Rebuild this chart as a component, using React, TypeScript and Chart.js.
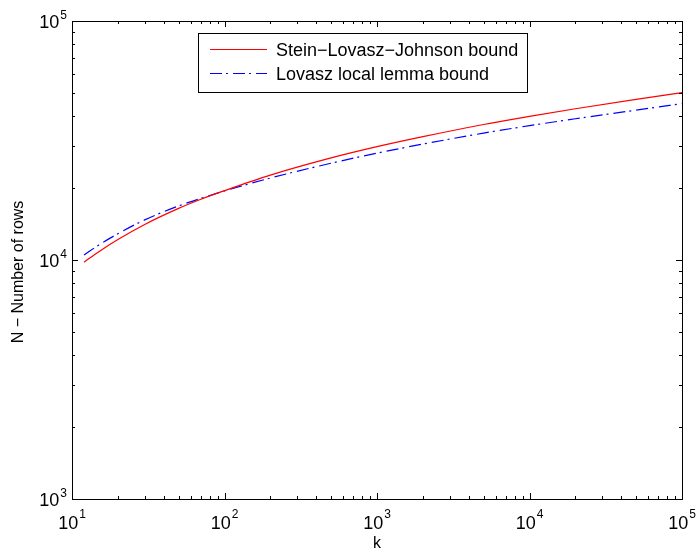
import React, { useEffect, useRef } from "react";
import { Chart, registerables } from "chart.js";

Chart.register(...registerables);

// Data
const kValues = [12, 15, 20, 30, 50, 70, 100, 200, 500, 1000, 2000, 5000, 10000, 20000, 50000, 100000];
const steinBound = [9795, 10840, 12190, 14090, 16440, 17950, 19500, 22650, 26730, 29790, 32810, 36900, 39900, 42950, 46990, 50120];
const lllBound = [10500, 11560, 12880, 14720, 16830, 18110, 19450, 22030, 25410, 27990, 30550, 33960, 36480, 38990, 42360, 45080];

const seriesLabels = ["Stein\u2212Lovasz\u2212Johnson bound", "Lovasz local lemma bound"];
const xExponents = [1, 2, 3, 4, 5];
const yExponents = [3, 4, 5];
const xTitle = "k";
const yTitle = "N \u2212 Number of rows";

const FONT = "'Liberation Sans', Arial, Helvetica, sans-serif";

const matlabAxes = {
  id: "matlabAxes",
  afterDraw(chart: any) {
    const { ctx, chartArea } = chart;
    const { left, right, top, bottom } = chartArea;
    const xs = chart.scales.x;
    const ys = chart.scales.y;
    ctx.save();
    ctx.strokeStyle = "#000";
    ctx.fillStyle = "#000";
    ctx.lineWidth = 1;
    ctx.setLineDash([]);
    ctx.strokeRect(Math.round(left) + 0.5, Math.round(top) + 0.5, Math.round(right - left), Math.round(bottom - top));

    const tick = (x1: number, y1: number, x2: number, y2: number) => {
      ctx.beginPath();
      ctx.moveTo(x1, y1);
      ctx.lineTo(x2, y2);
      ctx.stroke();
    };
    const xMin = xExponents[0];
    const xMax = xExponents[xExponents.length - 1];
    for (let e = xMin; e <= xMax; e++) {
      const base = Math.pow(10, e);
      const px = Math.round(xs.getPixelForValue(base)) + 0.5;
      tick(px, bottom, px, bottom - 6);
      tick(px, top, px, top + 6);
      if (e < xMax) {
        for (let m = 2; m <= 9; m++) {
          const p = Math.round(xs.getPixelForValue(m * base)) + 0.5;
          tick(p, bottom, p, bottom - 3);
          tick(p, top, p, top + 3);
        }
      }
    }
    const yMin = yExponents[0];
    const yMax = yExponents[yExponents.length - 1];
    for (let e = yMin; e <= yMax; e++) {
      const base = Math.pow(10, e);
      const py = Math.round(ys.getPixelForValue(base)) + 0.5;
      tick(left, py, left + 6, py);
      tick(right, py, right - 6, py);
      if (e < yMax) {
        for (let m = 2; m <= 9; m++) {
          const p = Math.round(ys.getPixelForValue(m * base)) + 0.5;
          tick(left, p, left + 3, p);
          tick(right, p, right - 3, p);
        }
      }
    }

    const bigFont = `18px ${FONT}`;
    const supFont = `12px ${FONT}`;
    ctx.textBaseline = "alphabetic";
    ctx.textAlign = "left";
    for (const e of xExponents) {
      const px = xs.getPixelForValue(Math.pow(10, e));
      ctx.font = bigFont;
      const w10 = ctx.measureText("10").width;
      ctx.font = supFont;
      const ws = ctx.measureText(String(e)).width;
      const start = px - (w10 + 1 + ws) / 2;
      ctx.font = bigFont;
      ctx.fillText("10", start, 529);
      ctx.font = supFont;
      ctx.fillText(String(e), start + w10 + 1, 518);
    }
    for (const e of yExponents) {
      const py = ys.getPixelForValue(Math.pow(10, e));
      ctx.font = bigFont;
      const w10 = ctx.measureText("10").width;
      ctx.font = supFont;
      const ws = ctx.measureText(String(e)).width;
      const end = left - 5;
      const start = end - (w10 + 1 + ws);
      ctx.font = bigFont;
      ctx.fillText("10", start, py + 7);
      ctx.font = supFont;
      ctx.fillText(String(e), start + w10 + 1, py - 2);
    }

    ctx.font = `16px ${FONT}`;
    ctx.textAlign = "center";
    ctx.fillText(xTitle, (left + right) / 2, 548);
    ctx.save();
    ctx.translate(23, (top + bottom) / 2 + 12);
    ctx.rotate(-Math.PI / 2);
    ctx.fillText(yTitle, 0, 0);
    ctx.restore();

    const lx = 198, ly = 33, lw = 329, lh = 59;
    ctx.fillStyle = "#fff";
    ctx.fillRect(lx, ly, lw, lh);
    ctx.strokeStyle = "#000";
    ctx.lineWidth = 1;
    ctx.strokeRect(lx + 0.5, ly + 0.5, lw, lh);
    const rows = [49, 73];
    chart.data.datasets.forEach((ds: any, i: number) => {
      const yRow = rows[i] + 0.5;
      ctx.strokeStyle = ds.borderColor;
      ctx.lineWidth = ds.borderWidth;
      ctx.setLineDash(ds.borderDash || []);
      ctx.beginPath();
      ctx.moveTo(210, yRow);
      ctx.lineTo(267, yRow);
      ctx.stroke();
      ctx.setLineDash([]);
      ctx.fillStyle = "#000";
      ctx.font = `18px ${FONT}`;
      ctx.textAlign = "left";
      ctx.fillText(ds.label, 276, rows[i] + 7);
    });
    ctx.restore();
  },
};

export default function App() {
  const canvasRef = useRef<HTMLCanvasElement | null>(null);

  useEffect(() => {
    const canvas = canvasRef.current;
    if (!canvas) return;
    const chart = new Chart(canvas, {
      type: "line",
      data: {
        datasets: [
          {
            label: seriesLabels[0],
            data: kValues.map((k, i) => ({ x: k, y: steinBound[i] })),
            borderColor: "#ff0000",
            borderWidth: 1.2,
            pointRadius: 0,
            cubicInterpolationMode: "monotone",
            fill: false,
          },
          {
            label: seriesLabels[1],
            data: kValues.map((k, i) => ({ x: k, y: lllBound[i] })),
            borderColor: "#0000ff",
            borderWidth: 1.2,
            borderDash: [12, 4, 2, 5],
            pointRadius: 0,
            cubicInterpolationMode: "monotone",
            fill: false,
          },
        ],
      },
      options: {
        animation: false,
        responsive: false,
        devicePixelRatio: 1,
        layout: { padding: { top: 21, right: 14, left: 0, bottom: 0 } },
        plugins: { legend: { display: false }, tooltip: { enabled: false } },
        scales: {
          x: {
            type: "logarithmic",
            min: 10,
            max: 100000,
            grid: { display: false },
            border: { display: false },
            ticks: { display: false },
            afterFit: (s: any) => {
              s.height = 53;
            },
          },
          y: {
            type: "logarithmic",
            min: 1000,
            max: 100000,
            grid: { display: false },
            border: { display: false },
            ticks: { display: false },
            afterFit: (s: any) => {
              s.width = 72;
            },
          },
        },
      },
      plugins: [matlabAxes],
    });
    return () => chart.destroy();
  }, []);

  return (
    <div style={{ position: "absolute", left: 0, top: 0, width: 696, height: 552, background: "#fff" }}>
      <canvas ref={canvasRef} width={696} height={552} />
    </div>
  );
}
